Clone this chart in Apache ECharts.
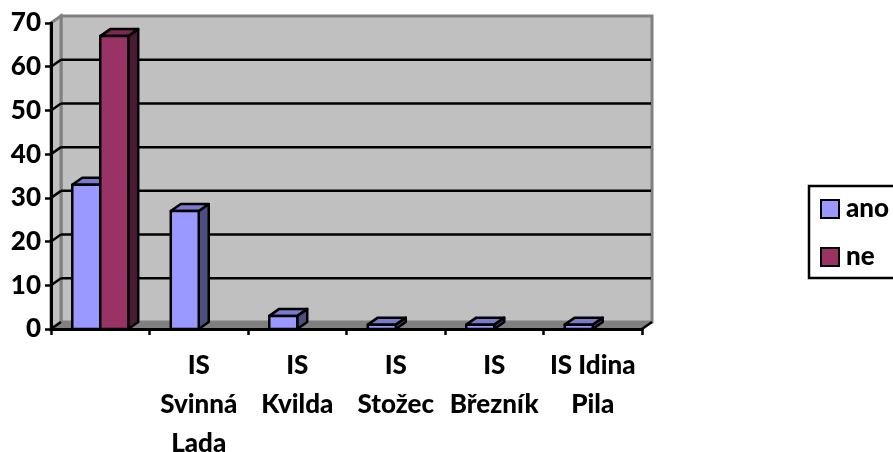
<!DOCTYPE html>
<html>
<head>
<meta charset="utf-8">
<style>
  html, body { margin: 0; padding: 0; background: #fff; overflow: hidden; }
  #chart { width: 893px; height: 452px; }
</style>
<script src="https://cdn.jsdelivr.net/npm/echarts@6/dist/echarts.min.js"></script>
</head>
<body>
<div id="chart"></div>
<script>
var categories = ["", "IS\nSvinná\nLada", "IS\nKvilda", "IS\nStožec", "IS\nBřezník", "IS Idina\nPila"];
var ano = [33, 27, 3, 1, 1, 1];
var ne = [67, 0, 0, 0, 0, 0];
var yTicks = [0, 10, 20, 30, 40, 50, 60, 70];

var font = "Lato";
var depthX = 10;
var depthY = -7;

// back wall, side wall, floor and the grid lines on the wall
function renderWall(params, api) {
  var cs = params.coordSys;
  var left = cs.x, right = cs.x + cs.width, top = cs.y, bottom = cs.y + cs.height;
  var y = api.coord([0, api.value(0)])[1];
  var children = [];
  if (params.dataIndex === 0) {
    children.push({
      type: "polygon",
      shape: { points: [[left + depthX, top + depthY], [right + depthX, top + depthY], [right + depthX, bottom + depthY], [left + depthX, bottom + depthY]] },
      style: { fill: "#C0C0C0", stroke: "#808080", lineWidth: 3 }
    });
    children.push({
      type: "polygon",
      shape: { points: [[left, top], [left + depthX, top + depthY], [left + depthX, bottom + depthY], [left, bottom]] },
      style: { fill: "#C0C0C0", stroke: "#808080", lineWidth: 3 }
    });
    children.push({
      type: "polygon",
      shape: { points: [[left, bottom], [left + depthX, bottom + depthY], [right + depthX, bottom + depthY], [right, bottom]] },
      style: { fill: "#808080", stroke: "#808080", lineWidth: 1 }
    });
    children.push({
      type: "line",
      shape: { x1: right, y1: bottom, x2: right + depthX, y2: bottom + depthY },
      style: { stroke: "#000", lineWidth: 2.5 }
    });
  }
  if (api.value(0) > 0 && api.value(0) < 70) {
    children.push({
      type: "line",
      shape: { x1: left + depthX, y1: y + depthY, x2: right + depthX - 1, y2: y + depthY },
      style: { stroke: "#000", lineWidth: 2.5 }
    });
  }
  if (api.value(0) < 70) {
    children.push({
      type: "line",
      shape: { x1: left, y1: y, x2: left + depthX, y2: y + depthY },
      style: { stroke: "#000", lineWidth: 2.5 }
    });
  }
  return { type: "group", children: children };
}

function barRenderer(offset, front, topColor, side) {
  return function (params, api) {
    var val = api.value(1);
    if (!val) return null;
    var p = api.coord([api.value(0), val]);
    var base = api.coord([api.value(0), 0]);
    var w = api.size([1, 0])[0] * 0.284;
    var x0 = p[0] + offset * w, x1 = x0 + w;
    var yt = p[1], yb = base[1];
    var line = { stroke: "#000", lineWidth: 2.5, lineJoin: "round" };
    return {
      type: "group",
      children: [
        { type: "polygon", shape: { points: [[x1, yt], [x1 + depthX, yt + depthY], [x1 + depthX, yb + depthY], [x1, yb]] }, style: Object.assign({ fill: side }, line) },
        { type: "polygon", shape: { points: [[x0, yt], [x0 + depthX, yt + depthY], [x1 + depthX, yt + depthY], [x1, yt]] }, style: Object.assign({ fill: topColor }, line) },
        { type: "rect", shape: { x: x0, y: yt, width: w, height: yb - yt }, style: Object.assign({ fill: front }, line) }
      ]
    };
  };
}

var chart = echarts.init(document.getElementById("chart"), null, { renderer: "canvas" });
chart.setOption({
  animation: false,
  backgroundColor: "#fff",
  textStyle: { fontFamily: font },
  grid: { left: 51, top: 23, width: 591, height: 306, containLabel: false, outerBoundsMode: "none" },
  legend: {
    left: 809,
    top: 186,
    orient: "vertical",
    data: ["ano", "ne"],
    icon: "rect",
    itemWidth: 18,
    itemHeight: 18,
    itemGap: 22,
    padding: [10, 30, 8, 11],
    borderColor: "#000",
    borderWidth: 2.5,
    backgroundColor: "#fff",
    textStyle: { fontFamily: font, fontWeight: 900, fontSize: 26, color: "#000", padding: [0, 0, 0, 2] }
  },
  xAxis: {
    type: "category",
    data: categories,
    z: 5,
    axisLine: { lineStyle: { color: "#000", width: 3 } },
    axisTick: { show: true, length: 6, lineStyle: { color: "#000", width: 2.5 } },
    axisLabel: { interval: 0, color: "#000", fontFamily: font, fontWeight: 900, fontSize: 26, lineHeight: 39, margin: 17 }
  },
  yAxis: {
    type: "value",
    min: 0,
    max: 70,
    interval: 10,
    z: 5,
    axisLine: { show: true, lineStyle: { color: "#000", width: 3 } },
    axisTick: { show: true, length: 6, lineStyle: { color: "#000", width: 2.5 } },
    splitLine: { show: false },
    axisLabel: { color: "#000", fontFamily: font, fontWeight: 900, fontSize: 26, margin: 10, padding: [8, 0, 0, 0] }
  },
  series: [
    { type: "custom", name: "wall", silent: true, z: 1, renderItem: renderWall, data: yTicks.map(function (v) { return [v]; }), encode: { y: 0 } },
    { type: "custom", name: "ano", z: 3, itemStyle: { color: "#9999FF", borderColor: "#000", borderWidth: 2.5 }, renderItem: barRenderer(-1, "#9999FF", "#7A7ACC", "#4D4D80"), data: ano.map(function (v, i) { return [i, v]; }), encode: { x: 0, y: 1 } },
    { type: "custom", name: "ne", z: 3, itemStyle: { color: "#993366", borderColor: "#000", borderWidth: 2.5 }, renderItem: barRenderer(0, "#993366", "#7A2952", "#4D1A33"), data: ne.map(function (v, i) { return [i, v]; }), encode: { x: 0, y: 1 } }
  ]
});
</script>
</body>
</html>
